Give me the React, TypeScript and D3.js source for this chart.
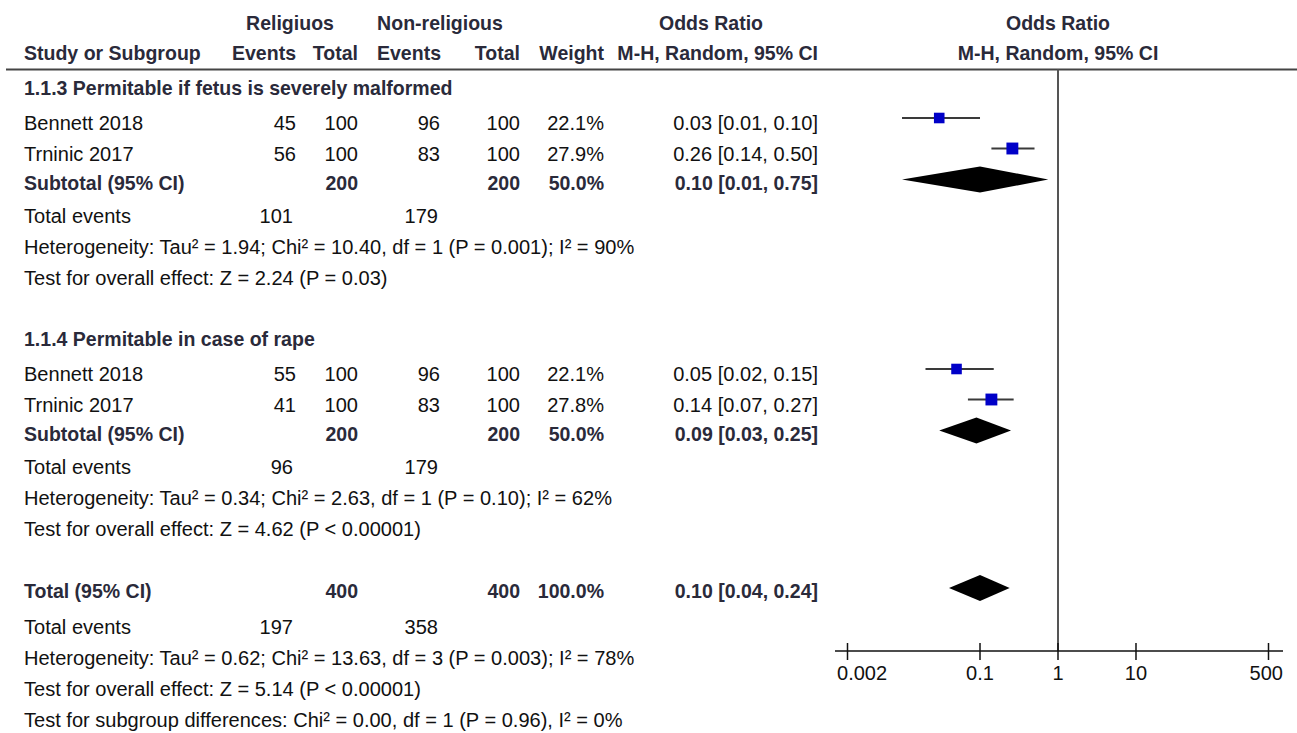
import React from "react";
import * as d3 from "d3";

// ---------- data ----------
const subgroupTitles = [
  "1.1.3 Permitable if fetus is severely malformed",
  "1.1.4 Permitable in case of rape",
];
const studyGroup = [0, 0, 1, 1];
const studyNames = ["Bennett 2018", "Trninic 2017", "Bennett 2018", "Trninic 2017"];
const relEvents = [45, 56, 55, 41];
const relTotal = [100, 100, 100, 100];
const nonEvents = [96, 83, 96, 83];
const nonTotal = [100, 100, 100, 100];
const weights = [22.1, 27.9, 22.1, 27.8];
const studyOR = [0.03, 0.26, 0.05, 0.14];
const studyLo = [0.01, 0.14, 0.02, 0.07];
const studyHi = [0.1, 0.5, 0.15, 0.27];

const subRelTotal = [200, 200];
const subNonTotal = [200, 200];
const subWeight = [50.0, 50.0];
const subOR = [0.1, 0.09];
const subLo = [0.01, 0.03];
const subHi = [0.75, 0.25];
const subRelEvents = [101, 96];
const subNonEvents = [179, 179];
const subHeterogeneity = [
  "Heterogeneity: Tau² = 1.94; Chi² = 10.40, df = 1 (P = 0.001); I² = 90%",
  "Heterogeneity: Tau² = 0.34; Chi² = 2.63, df = 1 (P = 0.10); I² = 62%",
];
const subOverall = [
  "Test for overall effect: Z = 2.24 (P = 0.03)",
  "Test for overall effect: Z = 4.62 (P < 0.00001)",
];

const totalRelTotal = 400;
const totalNonTotal = 400;
const totalWeight = 100.0;
const totalOR = 0.1;
const totalLo = 0.04;
const totalHi = 0.24;
const totalRelEvents = 197;
const totalNonEvents = 358;
const totalLines = [
  "Heterogeneity: Tau² = 0.62; Chi² = 13.63, df = 3 (P = 0.003); I² = 78%",
  "Test for overall effect: Z = 5.14 (P < 0.00001)",
  "Test for subgroup differences: Chi² = 0.00, df = 1 (P = 0.96), I² = 0%",
];

const axisTicks = [0.002, 0.1, 1, 10, 500];

// ---------- style ----------
const FONT = "'Liberation Sans', Arial, sans-serif";
const FS = 21;
const SX_REG = 0.955;
const SX_BOLD = 0.93;
const BOLD_COLOR = "#2a2a3a";
const REG_COLOR = "#111";

type TP = {
  x: number;
  y: number;
  anchor?: "start" | "middle" | "end";
  bold?: boolean;
  children: React.ReactNode;
};
function T({ x, y, anchor = "start", bold = false, children }: TP) {
  return (
    <text
      transform={`translate(${x},${y}) scale(${bold ? SX_BOLD : SX_REG},1)`}
      textAnchor={anchor}
      fontFamily={FONT}
      fontSize={FS}
      fontWeight={bold ? "bold" : "normal"}
      fill={bold ? BOLD_COLOR : REG_COLOR}
    >
      {children}
    </text>
  );
}

const fmt2 = (v: number) => v.toFixed(2);
const orText = (o: number, l: number, h: number) =>
  `${fmt2(o)} [${fmt2(l)}, ${fmt2(h)}]`;

// columns (right edges)
const COL = {
  study: 24,
  ev1: 296,
  tot1: 358,
  ev2: 440,
  tot2: 520,
  weight: 604,
  or: 818,
};

export default function App() {
  const W = 1297;
  const H = 733;
  const x = d3.scaleLog().domain([0.002, 500]).range([847.5, 1268.5]);
  const axisY = 651;
  const axisStart = 835;
  const axisEnd = 1283;
  const lineY = 69.5;

  // layout of rows (baselines)
  const groupStart = [95, 346];
  const studyStep = 30.5;
  const markerOff = 12;
  const diamondHalf = 13;

  const elements: React.ReactNode[] = [];

  subgroupTitles.forEach((title, g) => {
    let y = groupStart[g];
    elements.push(
      <T key={`gt${g}`} x={COL.study} y={y} bold>
        {title}
      </T>
    );
    y += 35;
    studyNames.forEach((name, i) => {
      if (studyGroup[i] !== g) return;
      const cy = y - markerOff;
      const side = 2.25 * Math.sqrt(weights[i]);
      elements.push(
        <g key={`s${i}`}>
          <T x={COL.study} y={y}>{name}</T>
          <T x={COL.ev1} y={y} anchor="end">{relEvents[i]}</T>
          <T x={COL.tot1} y={y} anchor="end">{relTotal[i]}</T>
          <T x={COL.ev2} y={y} anchor="end">{nonEvents[i]}</T>
          <T x={COL.tot2} y={y} anchor="end">{nonTotal[i]}</T>
          <T x={COL.weight} y={y} anchor="end">{weights[i].toFixed(1)}%</T>
          <T x={COL.or} y={y} anchor="end">{orText(studyOR[i], studyLo[i], studyHi[i])}</T>
          <line
            x1={x(studyLo[i])}
            x2={x(studyHi[i])}
            y1={cy}
            y2={cy}
            stroke="#3a3a3a"
            strokeWidth={2}
          />
          <rect
            x={x(studyOR[i]) - side / 2}
            y={cy - side / 2}
            width={side}
            height={side}
            fill="#0000c8"
          />
        </g>
      );
      y += studyStep;
    });
    y -= 1.5;
    const dy = y - markerOff + 2;
    elements.push(
      <g key={`sub${g}`}>
        <T x={COL.study} y={y} bold>Subtotal (95% CI)</T>
        <T x={COL.tot1} y={y} anchor="end" bold>{subRelTotal[g]}</T>
        <T x={COL.tot2} y={y} anchor="end" bold>{subNonTotal[g]}</T>
        <T x={COL.weight} y={y} anchor="end" bold>{subWeight[g].toFixed(1)}%</T>
        <T x={COL.or} y={y} anchor="end" bold>{orText(subOR[g], subLo[g], subHi[g])}</T>
        <path
          d={`M${x(subLo[g])},${dy} L${x(subOR[g])},${dy - diamondHalf} L${x(subHi[g])},${dy} L${x(subOR[g])},${dy + diamondHalf} Z`}
          fill="#000"
        />
      </g>
    );
    y += 33;
    elements.push(
      <g key={`te${g}`}>
        <T x={COL.study} y={y}>Total events</T>
        <T x={COL.ev1 - 3} y={y} anchor="end">{subRelEvents[g]}</T>
        <T x={COL.ev2 - 2} y={y} anchor="end">{subNonEvents[g]}</T>
      </g>
    );
    y += 31;
    elements.push(
      <T key={`he${g}`} x={COL.study} y={y}>{subHeterogeneity[g]}</T>
    );
    y += 31.5;
    elements.push(
      <T key={`ov${g}`} x={COL.study} y={y}>{subOverall[g]}</T>
    );
  });

  // overall
  let ty = 598;
  const tdy = ty - markerOff + 2;
  elements.push(
    <g key="total">
      <T x={COL.study} y={ty} bold>Total (95% CI)</T>
      <T x={COL.tot1} y={ty} anchor="end" bold>{totalRelTotal}</T>
      <T x={COL.tot2} y={ty} anchor="end" bold>{totalNonTotal}</T>
      <T x={COL.weight} y={ty} anchor="end" bold>{totalWeight.toFixed(1)}%</T>
      <T x={COL.or} y={ty} anchor="end" bold>{orText(totalOR, totalLo, totalHi)}</T>
      <path
        d={`M${x(totalLo)},${tdy} L${x(totalOR)},${tdy - diamondHalf} L${x(totalHi)},${tdy} L${x(totalOR)},${tdy + diamondHalf} Z`}
        fill="#000"
      />
    </g>
  );
  ty += 36;
  elements.push(
    <g key="tte">
      <T x={COL.study} y={ty}>Total events</T>
      <T x={COL.ev1 - 3} y={ty} anchor="end">{totalRelEvents}</T>
      <T x={COL.ev2 - 2} y={ty} anchor="end">{totalNonEvents}</T>
    </g>
  );
  totalLines.forEach((t, i) => {
    ty += 31;
    elements.push(
      <T key={`tl${i}`} x={COL.study} y={ty}>{t}</T>
    );
  });

  return (
    <svg
      width={W}
      height={H}
      viewBox={`0 0 ${W} ${H}`}
      style={{ position: "absolute", left: 0, top: 0, display: "block", background: "#fff" }}
    >
      <rect x={0} y={0} width={W} height={H} fill="#fff" />
      {/* header */}
      <T x={290} y={30} anchor="middle" bold>Religiuos</T>
      <T x={440} y={30} anchor="middle" bold>Non-religious</T>
      <T x={711} y={30} anchor="middle" bold>Odds Ratio</T>
      <T x={1058} y={30} anchor="middle" bold>Odds Ratio</T>
      <T x={COL.study} y={60} bold>Study or Subgroup</T>
      <T x={COL.ev1} y={60} anchor="end" bold>Events</T>
      <T x={COL.tot1} y={60} anchor="end" bold>Total</T>
      <T x={COL.ev2 + 1} y={60} anchor="end" bold>Events</T>
      <T x={COL.tot2} y={60} anchor="end" bold>Total</T>
      <T x={COL.weight} y={60} anchor="end" bold>Weight</T>
      <T x={COL.or} y={60} anchor="end" bold>M-H, Random, 95% CI</T>
      <T x={1058} y={60} anchor="middle" bold>M-H, Random, 95% CI</T>
      <line x1={6} x2={W} y1={lineY} y2={lineY} stroke="#444" strokeWidth={2} />

      {/* null line */}
      <line x1={x(1)} x2={x(1)} y1={lineY} y2={axisY} stroke="#555" strokeWidth={2} />

      {elements}

      {/* axis */}
      <line x1={axisStart} x2={axisEnd} y1={axisY} y2={axisY} stroke="#111" strokeWidth={1.5} />
      {axisTicks.map((t, i) => (
        <g key={`tick${i}`}>
          <line x1={x(t)} x2={x(t)} y1={axisY - 8} y2={axisY + 9} stroke="#111" strokeWidth={1.5} />
          <T
            x={i === 0 ? axisStart + 2 : i === axisTicks.length - 1 ? axisEnd : x(t)}
            y={axisY + 29}
            anchor={i === 0 ? "start" : i === axisTicks.length - 1 ? "end" : "middle"}
          >
            {String(t)}
          </T>
        </g>
      ))}
    </svg>
  );
}
